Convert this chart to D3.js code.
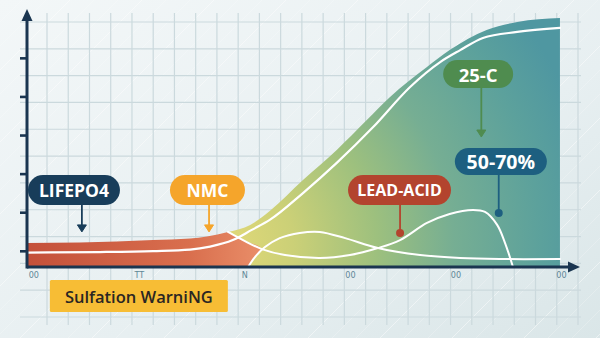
<!DOCTYPE html>
<html><head><meta charset="utf-8">
<script src="https://cdn.jsdelivr.net/npm/d3@7"></script>
<style>html,body{margin:0;padding:0;background:#e8eff1;}svg{display:block}</style>
</head><body><svg id="c" width="600" height="338"></svg>
<script>
// ---------- data ----------
const xTickValues = [0, 20, 40, 60, 80, 100];
const xTickLabels = ["00", "TT", "N", "00", "00", "00"];
const yTickValues = [6.5, 22, 37.5, 53, 68.5, 84];

// LiFePO4 band (orange)
const lfpTopX = [-1.2, 8.8, 22.7, 29.7, 32.9, 36.9];
const lfpTopY = [9.6, 9.8, 10.8, 11.4, 12.2, 14.1];
const lfpEdgeX = [36.9, 40.1, 43.1, 42.0, 40.7];
const lfpEdgeY = [14.1, 10.4, 7.6, 4.0, 0];

// big area (capacity envelope)
const envX = [36.9, 41.1, 44.8, 51.1, 57.5, 63.2, 67.6, 74.6, 78.9, 85.9, 91.7, 99.8];
const envY = [14.1, 16.9, 22.5, 34.9, 47.0, 59.0, 68.3, 80.3, 87.1, 95.2, 98.4, 100];

// white curves
const lfpLineX = [-1.2, 12.6, 22.7, 29.7, 33.5, 37.8, 41.4, 44.8, 51.1, 57.5, 64.4, 71.4, 77.1, 80.9, 85.2, 91.7, 99.8];
const lfpLineY = [5.8, 6.0, 6.4, 7.0, 8.2, 10.8, 14.9, 18.9, 29.7, 41.8, 56.2, 72.3, 82.3, 87.1, 92.0, 94.4, 96.0];
const nmcLineX = [40.7, 42.0, 43.9, 46.7, 50.5, 54.3, 59.1, 65.3, 73.3, 80.9, 88.4, 99.8];
const nmcLineY = [0, 4.0, 8.0, 11.6, 13.7, 14.1, 11.6, 7.6, 4.8, 3.6, 3.2, 3.2];
const leadLineX = [36.9, 40.1, 43.3, 47.7, 54.3, 60.0, 65.3, 69.5, 74.6, 78.9, 83.3, 85.6, 87.9, 89.4, 90.9];
const leadLineY = [14.1, 10.4, 7.2, 4.8, 3.6, 4.8, 7.6, 10.8, 17.7, 21.3, 22.9, 22.1, 16.9, 9.6, 0];

// annotations
const labelTexts = ["LIFEPO4", "NMC", "LEAD-ACID", "25-C", "50-70%"];
const labelX = [7.7, 33.0, 69.4, 84.3, 88.6];
const labelY = [30.9, 30.9, 30.9, 77.5, 42.4];
const pointerX = [9.2, 33.3, 69.5, 84.9, 88.2];
const pointerY = [14.1, 14.1, 13.7, 52.2, 21.7];
const warningText = "Sulfation WarniNG";
const warningX = 20.0, warningY = -11.6;

// ---------- layout / style ----------
const W = 600, H = 338;
const pillW = [92, 75, 103, 70, 92];
const pillH = [30, 30, 30, 28, 27];
const pillFill = ["#183d5a", "#f5a52b", "#b3442e", "#4f8c4f", "#1d5f80"];
const pillFont = [17.5, 17.5, 16, 18.5, 19.5];
const pointerKind = ["arrow", "arrow", "dot", "arrow", "dot"];

const svg = d3.select("#c");
const defs = svg.append("defs");

const x = d3.scaleLinear().domain([-1.2, 100]).range([27, 561]);
const y = d3.scaleLinear().domain([0, 100]).range([267, 18]);

// background
const bg = defs.append("linearGradient").attr("id", "bg").attr("x1", 0).attr("y1", 0).attr("x2", 1).attr("y2", 1);
bg.append("stop").attr("offset", 0).attr("stop-color", "#f3f7f8");
bg.append("stop").attr("offset", 0.6).attr("stop-color", "#e7eff1");
bg.append("stop").attr("offset", 1).attr("stop-color", "#dae6e8");
svg.append("rect").attr("width", W).attr("height", H).attr("fill", "url(#bg)");

// faint diagonal hatching
const hatch = svg.append("g").attr("stroke", "#ffffff").attr("stroke-width", 1).attr("opacity", 0.55);
d3.range(-340, 620, 24).forEach((o, i) => {
  hatch.append("line").attr("x1", o).attr("y1", H).attr("x2", o + H).attr("y2", 0)
    .attr("opacity", (i % 3 === 0) ? 0.9 : 0.45);
});

// grid
const gx = d3.scaleLinear().domain([0, 25]).range([47, 578]);
const gy = d3.scaleLinear().domain([0, 11]).range([22, 317]);
const grid = svg.append("g").attr("stroke", "#cbd9dd").attr("stroke-width", 1.2);
d3.range(0, 26).forEach(k => grid.append("line").attr("x1", gx(k)).attr("x2", gx(k)).attr("y1", 13).attr("y2", 325));
d3.range(0, 12).forEach(k => grid.append("line").attr("y1", gy(k)).attr("y2", gy(k)).attr("x1", 20).attr("x2", 581));

// gradients for areas
const envG = defs.append("radialGradient").attr("id", "envG").attr("gradientUnits", "userSpaceOnUse")
  .attr("cx", x(35)).attr("cy", y(8)).attr("r", 380);
[[0, "#e4da78"], [0.2, "#cbd077"], [0.42, "#9dc07e"], [0.62, "#76ae93"], [0.85, "#5ca19c"], [1, "#4f97a1"]]
  .forEach(s => envG.append("stop").attr("offset", s[0]).attr("stop-color", s[1]));
const lfpG = defs.append("linearGradient").attr("id", "lfpG").attr("gradientUnits", "userSpaceOnUse")
  .attr("x1", x(-1.2)).attr("x2", x(43)).attr("y1", 0).attr("y2", 0);
lfpG.append("stop").attr("offset", 0).attr("stop-color", "#c4503a");
lfpG.append("stop").attr("offset", 0.7).attr("stop-color", "#d96f4e");
lfpG.append("stop").attr("offset", 1).attr("stop-color", "#e98d68");

const pts = (xs, ys) => xs.map((v, i) => [v, ys[i]]);

// big envelope area
const area = d3.area().x(d => x(d[0])).y0(y(0)).y1(d => y(d[1])).curve(d3.curveMonotoneX);
svg.append("path").attr("d", area(pts(envX, envY))).attr("fill", "url(#envG)");

// orange band
const lineMono = d3.line().x(d => x(d[0])).y(d => y(d[1])).curve(d3.curveMonotoneX);
const lineCR = d3.line().x(d => x(d[0])).y(d => y(d[1])).curve(d3.curveCatmullRom);
const topD = lineMono(pts(lfpTopX, lfpTopY));
const edgeD = lineCR(pts(lfpEdgeX, lfpEdgeY)).replace(/^M/, "L");
svg.append("path").attr("d", topD + edgeD + "L" + x(-1.2) + "," + y(0) + "Z").attr("fill", "url(#lfpG)");

// white curves
const curves = svg.append("g").attr("fill", "none").attr("stroke", "#ffffff").attr("stroke-linecap", "round");
curves.append("path").attr("d", lineMono(pts(lfpLineX, lfpLineY))).attr("stroke-width", 2.2);
curves.append("path").attr("d", lineCR(pts(nmcLineX, nmcLineY))).attr("stroke-width", 2);
curves.append("path").attr("d", lineCR(pts(leadLineX, leadLineY))).attr("stroke-width", 2);

// axes
const axisColor = "#1a3550";
const ax = svg.append("g");
ax.append("line").attr("x1", x(-1.2)).attr("x2", 570).attr("y1", y(0)).attr("y2", y(0))
  .attr("stroke", axisColor).attr("stroke-width", 3);
ax.append("path").attr("d", `M568,${y(0) - 5.5}L580,${y(0)}L568,${y(0) + 5.5}Z`).attr("fill", axisColor);
ax.append("line").attr("x1", x(-1.2)).attr("x2", x(-1.2)).attr("y1", y(0) + 1.5).attr("y2", 20)
  .attr("stroke", axisColor).attr("stroke-width", 3);
ax.append("path").attr("d", `M${x(-1.2) - 5.5},21L${x(-1.2)},9L${x(-1.2) + 5.5},21Z`).attr("fill", axisColor);

const yAxis = d3.axisLeft(y).tickValues(yTickValues).tickSize(7).tickFormat("");
const yg = svg.append("g").attr("transform", `translate(${x(-1.2)},0)`).call(yAxis);
yg.select(".domain").remove();
yg.selectAll(".tick line").attr("stroke", axisColor).attr("stroke-width", 2.6);

const xAxis = d3.axisBottom(x).tickValues(xTickValues).tickSize(0).tickPadding(3)
  .tickFormat((d, i) => xTickLabels[i]);
const xg = svg.append("g").attr("transform", `translate(0,${y(0)})`).call(xAxis);
xg.select(".domain").remove();
xg.selectAll(".tick text").attr("fill", "#5f8797").attr("font-size", 9)
  .attr("font-family", "DejaVu Sans Condensed, sans-serif").attr("dy", "0.9em");

// annotations
const ann = svg.append("g").attr("font-family", "'Open Sans', Lato, sans-serif").attr("font-weight", 700);
labelTexts.forEach((t, i) => {
  const cx = x(labelX[i]), cy = y(labelY[i]);
  const px = x(pointerX[i]), py = y(pointerY[i]);
  const col = pillFill[i];
  ann.append("line").attr("x1", px).attr("x2", px).attr("y1", cy + pillH[i] / 2 - 1)
    .attr("y2", pointerKind[i] === "arrow" ? py - 5 : py).attr("stroke", col).attr("stroke-width", 1.8);
  if (pointerKind[i] === "arrow") {
    ann.append("path").attr("d", `M${px - 4.5},${py - 7}L${px + 4.5},${py - 7}L${px},${py}Z`)
      .attr("fill", col).attr("stroke", col).attr("stroke-width", 1).attr("stroke-linejoin", "round");
  } else {
    ann.append("circle").attr("cx", px).attr("cy", py).attr("r", 4).attr("fill", col);
  }
  ann.append("rect").attr("x", cx - pillW[i] / 2).attr("y", cy - pillH[i] / 2)
    .attr("width", pillW[i]).attr("height", pillH[i]).attr("rx", pillH[i] / 2).attr("fill", col);
  ann.append("text").attr("x", cx).attr("y", cy).attr("text-anchor", "middle")
    .attr("dominant-baseline", "central").attr("fill", "#ffffff").attr("font-size", pillFont[i])
    .text(t);
});

// sulfation warning box
const wx = x(warningX), wy = y(warningY);
svg.append("rect").attr("x", wx - 89).attr("y", wy - 16).attr("width", 178).attr("height", 32)
  .attr("rx", 1.5).attr("fill", "#f7bd35");
svg.append("text").attr("x", wx).attr("y", wy + 1).attr("text-anchor", "middle")
  .attr("dominant-baseline", "central").attr("font-family", "'Open Sans', Lato, sans-serif")
  .attr("font-weight", 600).attr("font-size", 16.5).attr("fill", "#2a2623").text(warningText);
</script></body></html>
